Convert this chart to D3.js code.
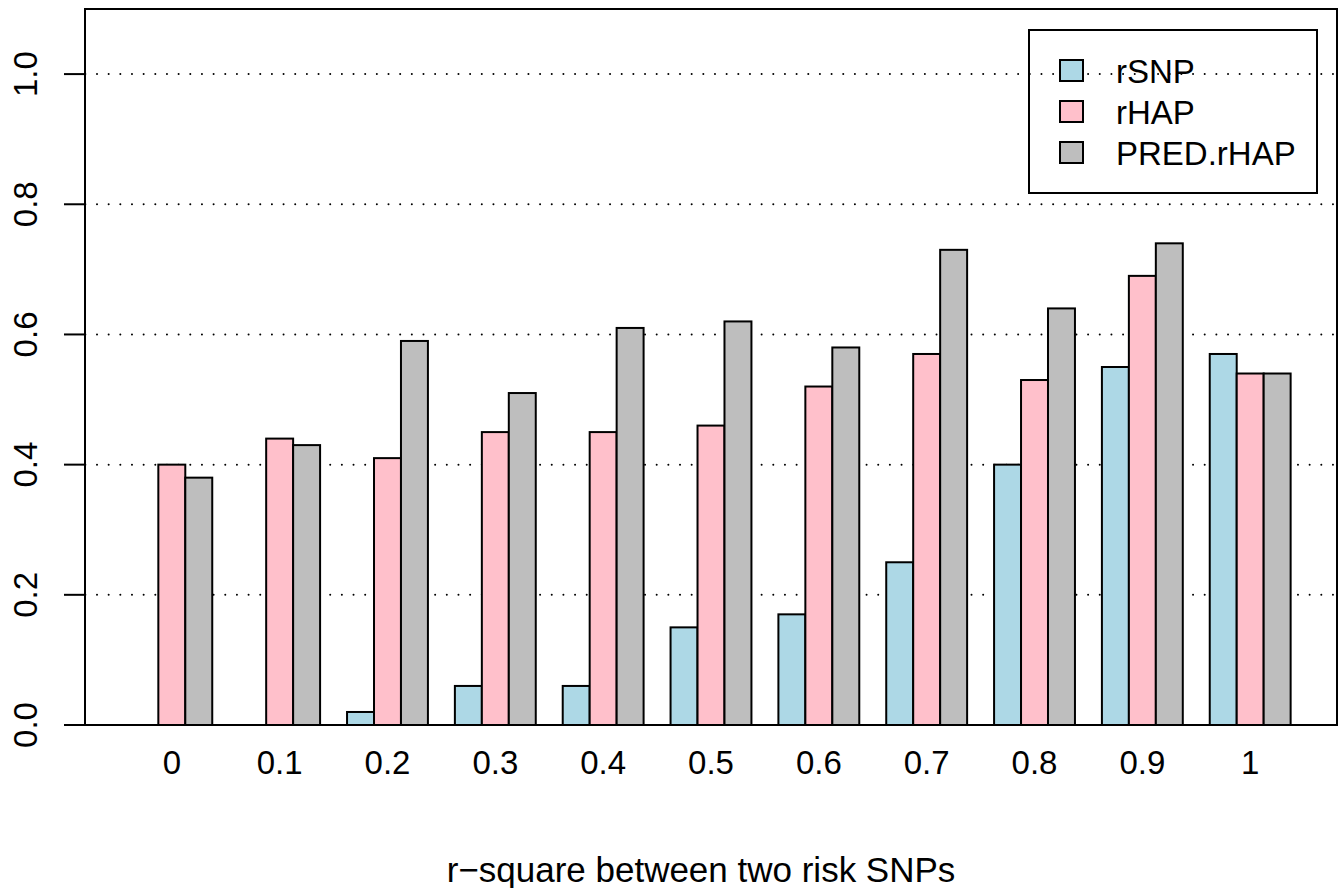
<!DOCTYPE html>
<html>
<head>
<meta charset="utf-8">
<script src="https://cdn.jsdelivr.net/npm/d3@7"></script>
<style>
html,body{margin:0;padding:0;background:#fff;}
svg text{font-family:"Liberation Sans",Arial,Helvetica,sans-serif;fill:#000;}
</style>
</head>
<body>
<svg id="chart" width="1338" height="888"></svg>
<script>
const categories = ["0","0.1","0.2","0.3","0.4","0.5","0.6","0.7","0.8","0.9","1"];
const seriesNames = ["rSNP","rHAP","PRED.rHAP"];
const rSNP     = [0.00,0.00,0.02,0.06,0.06,0.15,0.17,0.25,0.40,0.55,0.57];
const rHAP     = [0.40,0.44,0.41,0.45,0.45,0.46,0.52,0.57,0.53,0.69,0.54];
const PREDrHAP = [0.38,0.43,0.59,0.51,0.61,0.62,0.58,0.73,0.64,0.74,0.54];
const yTicks = [0.0,0.2,0.4,0.6,0.8,1.0];
const gridTicks = [0.2,0.4,0.6,0.8,1.0];
const colors = ["#ADD8E6","#FFC0CB","#BEBEBE"];
const xTitle = "r\u2212square between two risk SNPs";

const series = [rSNP, rHAP, PREDrHAP];
const svg = d3.select("#chart");
const L = 85, R = 1337, T = 9, B = 725;
const FS = 33, FST = 35;

// R barplot layout: space=c(0,1), width 1 per bar; xlim extended 4%
const nG = categories.length, nS = series.length;
const totalUnits = nG * (nS + 1);
const lo = 1, hi = totalUnits;
const ext = (hi - lo) * 0.04;
const x = d3.scaleLinear().domain([lo - ext, hi + ext]).range([L, R]);
const y = d3.scaleLinear().domain([0, 1.1]).range([B, T]);

const barLeft = (g, s) => 1 + g * (nS + 1) + s;

// grid
svg.append("g").selectAll("line").data(gridTicks).join("line")
  .attr("x1", L).attr("x2", R)
  .attr("y1", d => y(d)).attr("y2", d => y(d))
  .attr("stroke", "#000").attr("stroke-width", 2)
  .attr("stroke-linecap", "round")
  .attr("stroke-dasharray", "0.01 11.65")
  .attr("stroke-dashoffset", -12);

// bars
const bars = [];
series.forEach((arr, s) => arr.forEach((v, g) => bars.push({g, s, v})));
svg.append("g").selectAll("rect").data(bars).join("rect")
  .attr("x", d => x(barLeft(d.g, d.s)))
  .attr("width", d => x(barLeft(d.g, d.s) + 1) - x(barLeft(d.g, d.s)))
  .attr("y", d => y(d.v))
  .attr("height", d => y(0) - y(d.v))
  .attr("fill", d => colors[d.s])
  .attr("stroke", "#000").attr("stroke-width", 2);

// box
svg.append("rect").attr("x", L).attr("y", T).attr("width", R - L).attr("height", B - T)
  .attr("fill", "none").attr("stroke", "#000").attr("stroke-width", 2);

// y axis ticks + labels
const yg = svg.append("g");
yg.selectAll("line").data(yTicks).join("line")
  .attr("x1", L - 21).attr("x2", L)
  .attr("y1", d => y(d)).attr("y2", d => y(d))
  .attr("stroke", "#000").attr("stroke-width", 2);
yg.selectAll("text").data(yTicks).join("text")
  .attr("transform", d => `translate(37,${y(d)}) rotate(-90)`)
  .attr("text-anchor", "middle")
  .attr("font-size", FS)
  .text(d => d3.format(".1f")(d));

// x labels
svg.append("g").selectAll("text").data(categories).join("text")
  .attr("x", (d, g) => x(barLeft(g, 0) + nS / 2))
  .attr("y", 774)
  .attr("text-anchor", "middle")
  .attr("font-size", FS)
  .text(d => d);

// x title
svg.append("text").attr("x", (L + R) / 2 - 10).attr("y", 882)
  .attr("text-anchor", "middle").attr("font-size", FST).text(xTitle);

// legend
const lg = svg.append("g");
lg.append("rect").attr("x", 1029).attr("y", 30).attr("width", 288).attr("height", 163)
  .attr("fill", "none").attr("stroke", "#000").attr("stroke-width", 2);
const rowY = [71, 112, 153];
seriesNames.forEach((name, i) => {
  lg.append("rect").attr("x", 1060).attr("y", rowY[i] - 11).attr("width", 23).attr("height", 21)
    .attr("fill", colors[i]).attr("stroke", "#000").attr("stroke-width", 2);
  lg.append("text").attr("x", 1116).attr("y", rowY[i] + 12)
    .attr("font-size", FS).text(name);
});
</script>
</body>
</html>
